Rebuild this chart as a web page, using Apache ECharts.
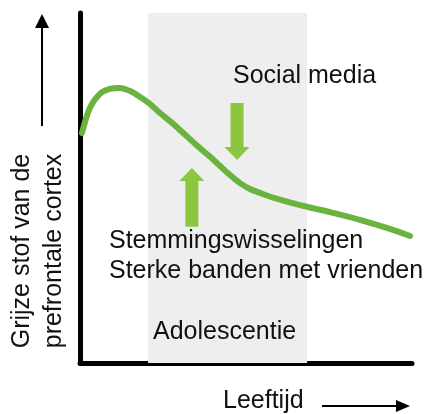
<!DOCTYPE html>
<html>
<head>
<meta charset="utf-8">
<script src="https://cdn.jsdelivr.net/npm/echarts@6/dist/echarts.min.js"></script>
<style>
  html, body { margin: 0; padding: 0; background: #fff; }
  #main { width: 424px; height: 414px; }
</style>
</head>
<body>
<div id="main"></div>
<script>
// leeftijd (0-100) tegen grijze stof (0-100)
const ages = [0.6, 3.0, 6.0, 9.0, 12.0, 15.1, 18.1, 21.1, 24.1, 27.1, 30.1, 33.1, 36.1, 39.2, 42.2, 45.2, 48.2, 51.2, 54.2, 58.7, 66.3, 75.3, 84.3, 93.4, 99.4]
const greyMatter = [65.7, 72.9, 76.9, 78.3, 78.6, 77.7, 76.0, 74.0, 71.4, 69.1, 66.6, 64.0, 61.4, 58.9, 56.3, 53.7, 51.4, 49.7, 48.6, 47.1, 45.1, 43.1, 40.9, 38.3, 36.3]
// adolescentie: begin en eind op de leeftijd-as
const adolescence = [20.5, 68.4]
// pijlen: [x, van, tot]
const arrows = [
  [47.3, 74.3, 58.0], // social media, omlaag
  [33.7, 38.9, 55.7]  // stemmingswisselingen, omhoog
]

const font = 'Liberation Sans, Arial, sans-serif'
let myEcharts = echarts.init(document.getElementById('main'))

let option = {
  animation: false,
  grid: { left: 80, right: 12, top: 13, bottom: 51 },
  xAxis: {
    type: 'value', min: 0, max: 100,
    axisLine: { show: true, onZero: false, lineStyle: { color: '#000', width: 5 } },
    axisTick: { show: false },
    axisLabel: { show: false },
    splitLine: { show: false }
  },
  yAxis: {
    type: 'value', min: 0, max: 100,
    axisLine: { show: true, onZero: false, lineStyle: { color: '#000', width: 5 } },
    axisTick: { show: false },
    axisLabel: { show: false },
    splitLine: { show: false }
  },
  series: [
    {
      // grijze band
      type: 'line',
      data: [],
      z: 1,
      markArea: {
        silent: true,
        itemStyle: { color: '#eeeeee' },
        data: [[{ xAxis: adolescence[0] }, { xAxis: adolescence[1] }]]
      }
    },
    {
      type: 'line',
      z: 3,
      data: ages.map((a, i) => [a, greyMatter[i]]),
      smooth: 0.3,
      symbol: 'none',
      lineStyle: { color: '#6ab33e', width: 6, cap: 'round' }
    },
    {
      type: 'custom',
      z: 4,
      data: arrows,
      renderItem: function (params, api) {
        let from = api.coord([api.value(0), api.value(1)])
        let to = api.coord([api.value(0), api.value(2)])
        let dir = to[1] > from[1] ? 1 : -1
        let x = from[0]
        let shaft = 6.5, head = 12.5, headLen = 13
        let neck = to[1] - dir * headLen
        return {
          type: 'polygon',
          shape: {
            points: [
              [x - shaft, from[1]], [x + shaft, from[1]], [x + shaft, neck],
              [x + head, neck], [x, to[1]], [x - head, neck], [x - shaft, neck]
            ]
          },
          style: { fill: '#8cc63f' }
        }
      }
    }
  ],
  graphic: [
    { type: 'text', x: 233, y: 76, z: 10,
      style: { text: 'Social media', font: '25px ' + font, fill: '#111', textVerticalAlign: 'middle' } },
    { type: 'text', x: 109, y: 241, z: 10,
      style: { text: 'Stemmingswisselingen\nSterke banden met vrienden', font: '25px ' + font, lineHeight: 30, fill: '#111', textVerticalAlign: 'top', y: -15 } },
    { type: 'text', x: 153, y: 332, z: 10,
      style: { text: 'Adolescentie', font: '25px ' + font, fill: '#111', textVerticalAlign: 'middle' } },
    { type: 'text', x: 223, y: 401, z: 10,
      style: { text: 'Leeftijd', font: '25px ' + font, fill: '#111', textVerticalAlign: 'middle' } },
    { type: 'text', x: 38, y: 251, rotation: Math.PI / 2, z: 10,
      style: { text: 'Grijze stof van de\nprefrontale cortex', font: '25px ' + font, lineHeight: 32, fill: '#111', textAlign: 'center', textVerticalAlign: 'middle' } },
    // pijl bij de y-as titel
    { type: 'line', shape: { x1: 42, y1: 126, x2: 42, y2: 27 }, style: { stroke: '#000', lineWidth: 2 } },
    { type: 'polygon', shape: { points: [[35, 28], [49, 28], [42, 14]] }, style: { fill: '#000' } },
    // pijl bij leeftijd
    { type: 'line', shape: { x1: 322, y1: 406, x2: 397, y2: 406 }, style: { stroke: '#000', lineWidth: 2 } },
    { type: 'polygon', shape: { points: [[396, 400], [396, 412], [410, 406]] }, style: { fill: '#000' } }
  ]
}
myEcharts.setOption(option)
</script>
</body>
</html>
